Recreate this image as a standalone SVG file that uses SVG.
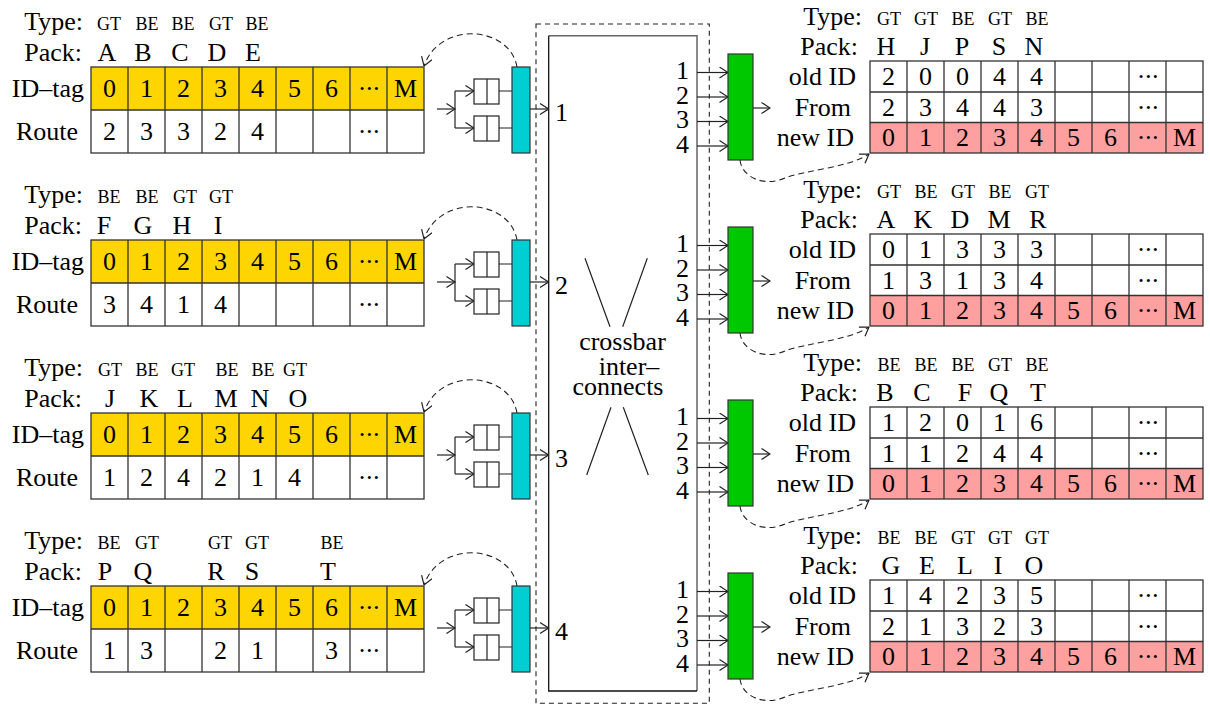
<svg xmlns="http://www.w3.org/2000/svg" xmlns:xlink="http://www.w3.org/1999/xlink" width="1210" height="706" viewBox="0 0 1210 706">
  <style>
    text { font-family: "Liberation Serif", "Times New Roman", serif; font-size: 26px; fill: #000; }
    .s text { font-size: 18px; }
    .c { text-anchor: middle; }
    .e { text-anchor: end; }
    text.d { letter-spacing: -1.5px; }
    .grid { fill: none; stroke: #333; stroke-width: 1.3; }
    .ln { fill: none; stroke: #222; stroke-width: 1.2; }
    .arr { fill: none; stroke: #222; stroke-width: 1.2; marker-end: url(#ah); }
    .dash { fill: none; stroke: #222; stroke-width: 1.1; stroke-dasharray: 6 4; marker-end: url(#ah); }
    .q { fill: #fff; stroke: #222; stroke-width: 1.2; }
    .arb { fill: #00CED1; stroke: #333; stroke-width: 1.2; }
    .mrg { fill: #00C800; stroke: #333; stroke-width: 1.2; }
  </style>
  <defs>
    <marker id="ah" viewBox="0 0 10 12" refX="9.5" refY="6" markerWidth="10" markerHeight="12" markerUnits="userSpaceOnUse" orient="auto">
      <path d="M1,0.5 L9.5,6 L1,11.5" fill="none" stroke="#222" stroke-width="1.2"/>
    </marker>
    <!-- source table: ID-tag row + Route row, 9 columns of 37px -->
    <g id="srcgrid">
      <rect x="0" y="0" width="333" height="43" fill="#FFD500"/>
      <rect x="0" y="43" width="333" height="43" fill="#fff"/>
      <rect class="grid" x="0" y="0" width="333" height="86"/>
      <path class="grid" d="M0,43H333M37,0V86M74,0V86M111,0V86M148,0V86M185,0V86M222,0V86M259,0V86M296,0V86"/>
      <text class="c" x="18.5" y="30">0</text>
      <text class="c" x="55.5" y="30">1</text>
      <text class="c" x="92.5" y="30">2</text>
      <text class="c" x="129.5" y="30">3</text>
      <text class="c" x="166.5" y="30">4</text>
      <text class="c" x="203.5" y="30">5</text>
      <text class="c" x="240.5" y="30">6</text>
      <text class="c d" x="277.5" y="30">···</text>
      <text class="c" x="314.5" y="30">M</text>
      <text class="c d" x="277.5" y="73">···</text>
    </g>
    <!-- destination table: old ID, From, new ID rows -->
    <g id="dstgrid">
      <rect x="0" y="0" width="333" height="61.5" fill="#fff"/>
      <rect x="0" y="61.5" width="333" height="30.5" fill="#FFA0A0"/>
      <rect class="grid" x="0" y="0" width="333" height="92"/>
      <path class="grid" d="M0,31H333M0,61.5H333M37,0V92M74,0V92M111,0V92M148,0V92M185,0V92M222,0V92M259,0V92M296,0V92"/>
      <text class="c d" x="277.5" y="24">···</text>
      <text class="c d" x="277.5" y="55">···</text>
      <text class="c" x="18.5" y="85">0</text>
      <text class="c" x="55.5" y="85">1</text>
      <text class="c" x="92.5" y="85">2</text>
      <text class="c" x="129.5" y="85">3</text>
      <text class="c" x="166.5" y="85">4</text>
      <text class="c" x="203.5" y="85">5</text>
      <text class="c" x="240.5" y="85">6</text>
      <text class="c d" x="277.5" y="85">···</text>
      <text class="c" x="314.5" y="85">M</text>
    </g>
    <!-- two input queues feeding one arbiter -->
    <g id="qpair">
      <rect class="q" x="474" y="79" width="25" height="25"/>
      <rect class="q" x="474" y="116" width="25" height="25"/>
      <path class="ln" d="M487,79V104M487,116V141"/>
      <rect class="arb" x="512" y="67" width="18" height="86"/>
    </g>
    <!-- links inside one input port -->
    <g id="inlinks">
      <line class="arr" x1="437" y1="109" x2="455" y2="109"/>
      <path class="ln" d="M455,91V128"/>
      <line class="arr" x1="455" y1="91" x2="474" y2="91"/>
      <line class="arr" x1="455" y1="128" x2="474" y2="128"/>
      <path class="ln" d="M499,91H512M499,128H512"/>
      <line class="arr" x1="530" y1="109" x2="548.5" y2="109"/>
      <path class="dash" d="M517,67 C510,26 440,20 424,66"/>
    </g>
    <!-- links inside one output port -->
    <g id="outlinks">
      <line class="arr" x1="697" y1="72.5" x2="728" y2="72.5"/>
      <line class="arr" x1="697" y1="97" x2="728" y2="97"/>
      <line class="arr" x1="697" y1="121.5" x2="728" y2="121.5"/>
      <line class="arr" x1="697" y1="146" x2="728" y2="146"/>
      <line class="arr" x1="753" y1="108" x2="770" y2="108"/>
      <path class="dash" d="M740,160 C742,178 765,187 785,178 C805,170 848,168 869,154"/>
    </g>
  </defs>

  <!-- crossbar switch -->
  <g id="crossbar">
    <rect x="536" y="24" width="173.3" height="679.3" fill="none" stroke="#222" stroke-width="1.1" stroke-dasharray="5 4"/>
    <rect x="548.7" y="35.7" width="148.3" height="655.3" fill="#fff"/>
    <path d="M548.7,35.7H697V691" fill="none" stroke="#666" stroke-width="1.5"/>
    <path d="M548.7,35.7V691H697" fill="none" stroke="#111" stroke-width="1.3"/>
    <path class="ln" d="M585,258.3L610,326.7M647.3,258.3L622.7,326.7M611,407.3L586.7,475M623.3,407.3L648.3,475"/>
    <text class="c" x="622.5" y="350">crossbar</text>
    <text class="c" x="629" y="375">inter–</text>
    <text class="c" x="618" y="395">connects</text>
    <text x="555" y="121">1</text>
    <text x="555" y="294">2</text>
    <text x="555" y="467">3</text>
    <text x="555" y="640">4</text>
    <g class="e">
      <text x="689" y="79">1</text><text x="689" y="104">2</text><text x="689" y="128">3</text><text x="689" y="153">4</text>
      <text x="689" y="252">1</text><text x="689" y="277">2</text><text x="689" y="301">3</text><text x="689" y="326">4</text>
      <text x="689" y="425">1</text><text x="689" y="450">2</text><text x="689" y="474">3</text><text x="689" y="499">4</text>
      <text x="689" y="598">1</text><text x="689" y="623">2</text><text x="689" y="647">3</text><text x="689" y="672">4</text>
    </g>
  </g>

  <!-- connectors -->
  <g id="connectors">
    <use xlink:href="#inlinks"/>
    <use xlink:href="#inlinks" transform="translate(0,173)"/>
    <use xlink:href="#inlinks" transform="translate(0,346)"/>
    <use xlink:href="#inlinks" transform="translate(0,519)"/>
    <use xlink:href="#outlinks"/>
    <use xlink:href="#outlinks" transform="translate(0,173)"/>
    <use xlink:href="#outlinks" transform="translate(0,346)"/>
    <use xlink:href="#outlinks" transform="translate(0,519)"/>
  </g>

  <!-- input ports: queues and arbiters -->
  <g id="inport1"><use xlink:href="#qpair"/></g>
  <g id="inport2"><use xlink:href="#qpair" transform="translate(0,173)"/></g>
  <g id="inport3"><use xlink:href="#qpair" transform="translate(0,346)"/></g>
  <g id="inport4"><use xlink:href="#qpair" transform="translate(0,519)"/></g>

  <!-- output merge blocks -->
  <g id="merge1"><rect class="mrg" x="728" y="54" width="25" height="106"/></g>
  <g id="merge2"><rect class="mrg" x="728" y="227" width="25" height="106"/></g>
  <g id="merge3"><rect class="mrg" x="728" y="400" width="25" height="106"/></g>
  <g id="merge4"><rect class="mrg" x="728" y="573" width="25" height="106"/></g>

  <!-- source tables -->
  <g id="src1">
    <text class="e" x="83" y="30">Type:</text>
    <text class="e" x="82" y="61">Pack:</text>
    <text class="e" x="84" y="97">ID–tag</text>
    <text class="e" x="78" y="140">Route</text>
    <g class="s c"><text x="109" y="30">GT</text><text x="147" y="30">BE</text><text x="183" y="30">BE</text><text x="221" y="30">GT</text><text x="257" y="30">BE</text></g>
    <g class="c"><text x="107" y="61">A</text><text x="143" y="61">B</text><text x="180" y="61">C</text><text x="217" y="61">D</text><text x="253" y="61">E</text></g>
    <use xlink:href="#srcgrid" transform="translate(91,67)"/>
    <g class="c"><text x="109.5" y="140">2</text><text x="146.5" y="140">3</text><text x="183.5" y="140">3</text><text x="220.5" y="140">2</text><text x="257.5" y="140">4</text></g>
  </g>
  <g id="src2">
    <text class="e" x="83" y="203">Type:</text>
    <text class="e" x="82" y="234">Pack:</text>
    <text class="e" x="84" y="270">ID–tag</text>
    <text class="e" x="78" y="313">Route</text>
    <g class="s c"><text x="109" y="203">BE</text><text x="147" y="203">BE</text><text x="185" y="203">GT</text><text x="221" y="203">GT</text></g>
    <g class="c"><text x="104" y="234">F</text><text x="143" y="234">G</text><text x="182" y="234">H</text><text x="218" y="234">I</text></g>
    <use xlink:href="#srcgrid" transform="translate(91,240)"/>
    <g class="c"><text x="109.5" y="313">3</text><text x="146.5" y="313">4</text><text x="183.5" y="313">1</text><text x="220.5" y="313">4</text></g>
  </g>
  <g id="src3">
    <text class="e" x="83" y="376">Type:</text>
    <text class="e" x="82" y="407">Pack:</text>
    <text class="e" x="84" y="443">ID–tag</text>
    <text class="e" x="78" y="486">Route</text>
    <g class="s c"><text x="110" y="376">GT</text><text x="147" y="376">BE</text><text x="183" y="376">GT</text><text x="227" y="376">BE</text><text x="263" y="376">BE</text><text x="295" y="376">GT</text></g>
    <g class="c"><text x="110" y="407">J</text><text x="149" y="407">K</text><text x="185" y="407">L</text><text x="226" y="407">M</text><text x="260" y="407">N</text><text x="298" y="407">O</text></g>
    <use xlink:href="#srcgrid" transform="translate(91,413)"/>
    <g class="c"><text x="109.5" y="486">1</text><text x="146.5" y="486">2</text><text x="183.5" y="486">4</text><text x="220.5" y="486">2</text><text x="257.5" y="486">1</text><text x="294.5" y="486">4</text></g>
  </g>
  <g id="src4">
    <text class="e" x="83" y="549">Type:</text>
    <text class="e" x="82" y="580">Pack:</text>
    <text class="e" x="84" y="616">ID–tag</text>
    <text class="e" x="78" y="659">Route</text>
    <g class="s c"><text x="109" y="549">BE</text><text x="147" y="549">GT</text><text x="220" y="549">GT</text><text x="257" y="549">GT</text><text x="332" y="549">BE</text></g>
    <g class="c"><text x="105" y="580">P</text><text x="143" y="580">Q</text><text x="216" y="580">R</text><text x="252" y="580">S</text><text x="328" y="580">T</text></g>
    <use xlink:href="#srcgrid" transform="translate(91,586)"/>
    <g class="c"><text x="109.5" y="659">1</text><text x="146.5" y="659">3</text><text x="220.5" y="659">2</text><text x="257.5" y="659">1</text><text x="331.5" y="659">3</text></g>
  </g>

  <!-- destination tables -->
  <g id="dst1">
    <text class="e" x="862" y="25">Type:</text>
    <text class="e" x="858" y="55">Pack:</text>
    <text class="e" x="856" y="85">old ID</text>
    <text class="e" x="851" y="116">From</text>
    <text class="e" x="854" y="146">new ID</text>
    <g class="s c"><text x="889" y="25">GT</text><text x="926" y="25">GT</text><text x="963" y="25">BE</text><text x="1000" y="25">GT</text><text x="1037" y="25">BE</text></g>
    <g class="c"><text x="886" y="55">H</text><text x="925" y="55">J</text><text x="962" y="55">P</text><text x="999" y="55">S</text><text x="1034" y="55">N</text></g>
    <use xlink:href="#dstgrid" transform="translate(870,61)"/>
    <g class="c"><text x="888.5" y="85">2</text><text x="925.5" y="85">0</text><text x="962.5" y="85">0</text><text x="999.5" y="85">4</text><text x="1036.5" y="85">4</text></g>
    <g class="c"><text x="888.5" y="116">2</text><text x="925.5" y="116">3</text><text x="962.5" y="116">4</text><text x="999.5" y="116">4</text><text x="1036.5" y="116">3</text></g>
  </g>
  <g id="dst2">
    <text class="e" x="862" y="198">Type:</text>
    <text class="e" x="858" y="228">Pack:</text>
    <text class="e" x="856" y="258">old ID</text>
    <text class="e" x="851" y="289">From</text>
    <text class="e" x="854" y="319">new ID</text>
    <g class="s c"><text x="889" y="198">GT</text><text x="926" y="198">BE</text><text x="963" y="198">GT</text><text x="1000" y="198">BE</text><text x="1037" y="198">GT</text></g>
    <g class="c"><text x="886" y="228">A</text><text x="923" y="228">K</text><text x="960" y="228">D</text><text x="999" y="228">M</text><text x="1038" y="228">R</text></g>
    <use xlink:href="#dstgrid" transform="translate(870,234)"/>
    <g class="c"><text x="888.5" y="258">0</text><text x="925.5" y="258">1</text><text x="962.5" y="258">3</text><text x="999.5" y="258">3</text><text x="1036.5" y="258">3</text></g>
    <g class="c"><text x="888.5" y="289">1</text><text x="925.5" y="289">3</text><text x="962.5" y="289">1</text><text x="999.5" y="289">3</text><text x="1036.5" y="289">4</text></g>
  </g>
  <g id="dst3">
    <text class="e" x="862" y="371">Type:</text>
    <text class="e" x="858" y="401">Pack:</text>
    <text class="e" x="856" y="431">old ID</text>
    <text class="e" x="851" y="462">From</text>
    <text class="e" x="854" y="492">new ID</text>
    <g class="s c"><text x="889" y="371">BE</text><text x="926" y="371">BE</text><text x="963" y="371">BE</text><text x="1000" y="371">GT</text><text x="1037" y="371">BE</text></g>
    <g class="c"><text x="885" y="401">B</text><text x="922" y="401">C</text><text x="965" y="401">F</text><text x="999" y="401">Q</text><text x="1038" y="401">T</text></g>
    <use xlink:href="#dstgrid" transform="translate(870,407)"/>
    <g class="c"><text x="888.5" y="431">1</text><text x="925.5" y="431">2</text><text x="962.5" y="431">0</text><text x="999.5" y="431">1</text><text x="1036.5" y="431">6</text></g>
    <g class="c"><text x="888.5" y="462">1</text><text x="925.5" y="462">1</text><text x="962.5" y="462">2</text><text x="999.5" y="462">4</text><text x="1036.5" y="462">4</text></g>
  </g>
  <g id="dst4">
    <text class="e" x="862" y="544">Type:</text>
    <text class="e" x="858" y="574">Pack:</text>
    <text class="e" x="856" y="604">old ID</text>
    <text class="e" x="851" y="635">From</text>
    <text class="e" x="854" y="665">new ID</text>
    <g class="s c"><text x="889" y="544">BE</text><text x="926" y="544">BE</text><text x="963" y="544">GT</text><text x="1000" y="544">GT</text><text x="1037" y="544">GT</text></g>
    <g class="c"><text x="891" y="574">G</text><text x="927" y="574">E</text><text x="965" y="574">L</text><text x="998" y="574">I</text><text x="1034" y="574">O</text></g>
    <use xlink:href="#dstgrid" transform="translate(870,580)"/>
    <g class="c"><text x="888.5" y="604">1</text><text x="925.5" y="604">4</text><text x="962.5" y="604">2</text><text x="999.5" y="604">3</text><text x="1036.5" y="604">5</text></g>
    <g class="c"><text x="888.5" y="635">2</text><text x="925.5" y="635">1</text><text x="962.5" y="635">3</text><text x="999.5" y="635">2</text><text x="1036.5" y="635">3</text></g>
  </g>
</svg>
